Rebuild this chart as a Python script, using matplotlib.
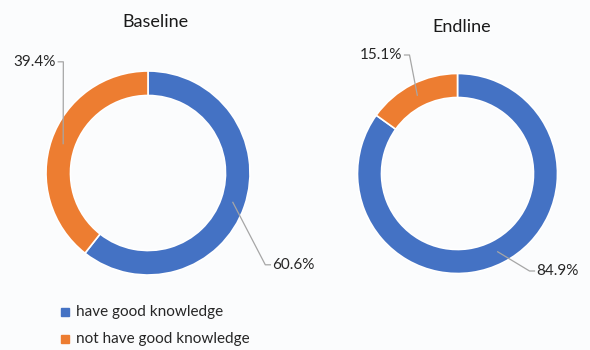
import numpy as np
import matplotlib.pyplot as plt

plt.rcParams['font.family'] = ['Lato', 'DejaVu Sans']

categories = ['have good knowledge', 'not have good knowledge']
baseline = [60.6, 39.4]
endline = [84.9, 15.1]
colors = ['#4472C4', '#ED7D31']

fig = plt.figure(figsize=(5.9, 3.5), dpi=100, facecolor='#fbfcfd')


def donut(rect, values, title, title_xy, label_pos):
    ax = fig.add_axes(rect)
    ax.set_facecolor('none')
    wedges, _ = ax.pie(values, colors=colors, startangle=90, counterclock=False,
                       radius=1.0, wedgeprops=dict(width=0.24, edgecolor='white', linewidth=1.2))
    ax.set_xlim(-1, 1)
    ax.set_ylim(-1, 1)
    ax.set_aspect('equal')
    # leader lines from the middle of each ring segment to its label
    for w, v, (tx, ty, side) in zip(wedges, values, label_pos):
        ang = np.deg2rad((w.theta1 + w.theta2) / 2)
        px, py = 0.88 * np.cos(ang), 0.88 * np.sin(ang)
        ex = tx - 0.05 if side == 'left' else tx + 0.05
        ax.plot([px, ex, tx], [py, ty, ty], color='#a6a6a6', lw=0.9, clip_on=False)
        ha = 'left' if side == 'left' else 'right'
        tx2 = tx + 0.02 if side == 'left' else tx - 0.02
        ax.text(tx2, ty, f'{v:.1f}%', ha=ha, va='center', fontsize=11,
                color='#262626', clip_on=False)
    fig.text(title_xy[0], title_xy[1], title, ha='center', va='center',
             fontsize=13, color='#1a1a1a')
    return ax


donut([46 / 590, 75 / 350, 204 / 590, 204 / 350], baseline, 'Baseline',
      (155 / 590, 1 - 22 / 350),
      [(1.2, -0.90, 'left'), (-0.88, 1.09, 'right')])
donut([357.5 / 590, 76.5 / 350, 200 / 590, 200 / 350], endline, 'Endline',
      (462 / 590, 1 - 27 / 350),
      [(0.77, -0.975, 'left'), (-0.53, 1.185, 'right')])

# legend
for i, (cat, c) in enumerate(zip(categories, colors)):
    y = 1 - (312 + 27 * i) / 350
    fig.patches.append(plt.Rectangle((61 / 590, y - 4 / 350), 8 / 590, 8 / 350,
                                     transform=fig.transFigure, color=c))
    fig.text(76 / 590, y, cat, ha='left', va='center', fontsize=11, color='#262626')

fig.savefig('out.png', dpi=100, facecolor=fig.get_facecolor())
